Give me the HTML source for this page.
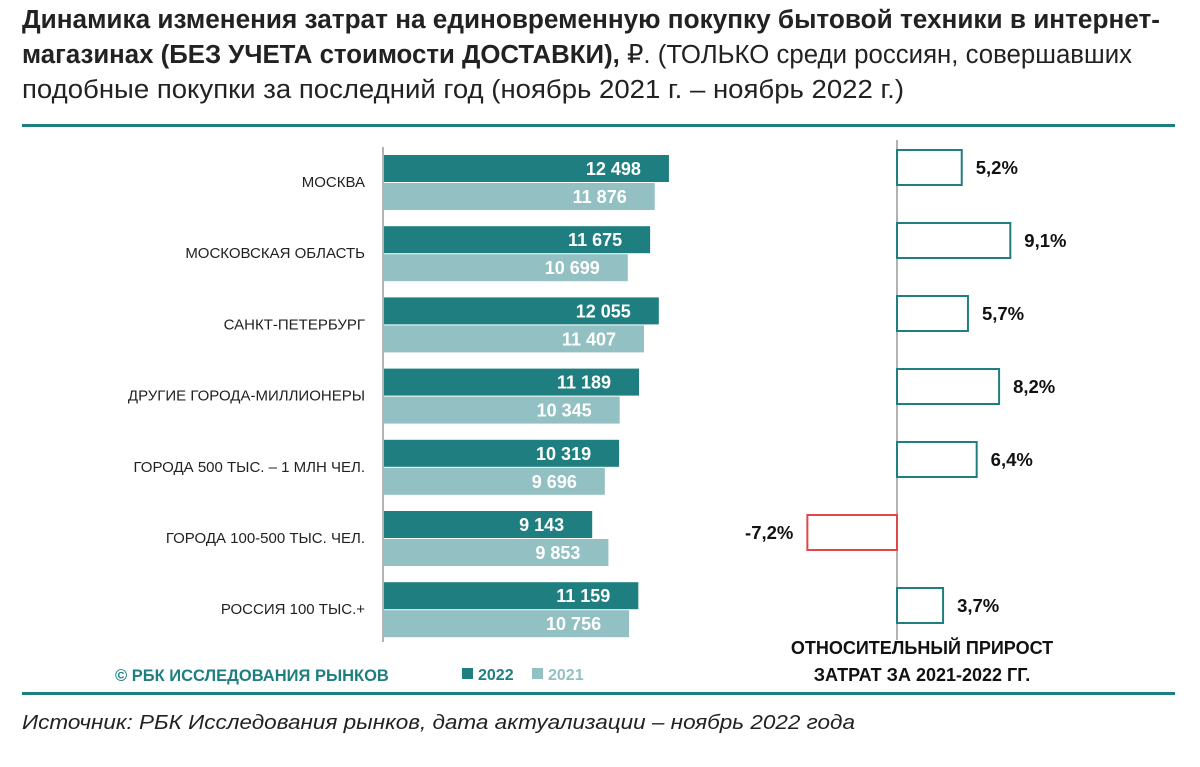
<!DOCTYPE html>
<html><head><meta charset="utf-8"><style>
body{margin:0;width:1200px;height:762px;background:#fff;overflow:hidden;font-family:"Liberation Sans","DejaVu Sans",sans-serif;}
</style></head><body>
<svg id="c" width="1200" height="762" xmlns="http://www.w3.org/2000/svg">
<g font-family="Liberation Sans, DejaVu Sans, sans-serif" font-size="25.5" fill="#222">
<text x="22" y="28" font-weight="bold" textLength="1138" lengthAdjust="spacingAndGlyphs">Динамика изменения затрат на единовременную покупку бытовой техники в интернет-</text>
<text x="22" y="63" textLength="1110" lengthAdjust="spacingAndGlyphs"><tspan font-weight="bold">магазинах (БЕЗ УЧЕТА стоимости ДОСТАВКИ), </tspan>₽. (ТОЛЬКО среди россиян, совершавших</text>
<text x="22" y="98" textLength="882" lengthAdjust="spacingAndGlyphs">подобные покупки за последний год (ноябрь 2021 г. – ноябрь 2022 г.)</text>
</g>
<rect x="22" y="124" width="1153" height="3" fill="#1f7f80"/>
<line x1="383" y1="147" x2="383" y2="642" stroke="#999" stroke-width="1.5"/>
<line x1="897" y1="140" x2="897" y2="640" stroke="#999" stroke-width="1.5"/>
<g id="bars"></g>
<g id="growth"></g>
<text x="922" y="654" text-anchor="middle" font-size="18" font-weight="bold" fill="#111">ОТНОСИТЕЛЬНЫЙ ПРИРОСТ</text>
<text x="922" y="681" text-anchor="middle" font-size="18" font-weight="bold" fill="#111">ЗАТРАТ ЗА 2021-2022 ГГ.</text>
<text x="115" y="681" font-size="16.5" font-weight="bold" fill="#1f7f80">© РБК ИССЛЕДОВАНИЯ РЫНКОВ</text>
<rect x="462" y="668" width="11" height="11" fill="#1f7f80"/>
<text x="478" y="680" font-size="16" font-weight="bold" fill="#1f7f80">2022</text>
<rect x="532" y="668" width="11" height="11" fill="#93c1c3"/>
<text x="548" y="680" font-size="16" font-weight="bold" fill="#93c1c3">2021</text>
<rect x="22" y="692" width="1153" height="3" fill="#1f7f80"/>
<text x="22" y="729" font-size="20" font-style="italic" fill="#222" textLength="833" lengthAdjust="spacingAndGlyphs">Источник: РБК Исследования рынков, дата актуализации – ноябрь 2022 года</text>
</svg>
<script>
const categories=["МОСКВА","МОСКОВСКАЯ ОБЛАСТЬ","САНКТ-ПЕТЕРБУРГ","ДРУГИЕ ГОРОДА-МИЛЛИОНЕРЫ","ГОРОДА 500 ТЫС. – 1 МЛН ЧЕЛ.","ГОРОДА 100-500 ТЫС. ЧЕЛ.","РОССИЯ 100 ТЫС.+"];
const values2022=[12498,11675,12055,11189,10319,9143,11159];
const values2021=[11876,10699,11407,10345,9696,9853,10756];
const growth=[5.2,9.1,5.7,8.2,6.4,-7.2,3.7];
const NS="http://www.w3.org/2000/svg";
function xBar(v){return 383+v*0.02288;}
function yGroup(i){return 155+i*71.2;}
function xG(p){return 897+p*12.45;}
function yG(i){return 150+i*73;}
function fmt(v){return String(v).replace(/\B(?=(\d{3})+(?!\d))/g," ");}
function mk(tag,attrs,parent){const e=document.createElementNS(NS,tag);for(const k in attrs)e.setAttribute(k,attrs[k]);parent.appendChild(e);return e;}
const bars=document.getElementById("bars"),gg=document.getElementById("growth");
categories.forEach((c,i)=>{
  const y=yGroup(i);
  const t=mk("text",{x:365,y:y+32,"text-anchor":"end","font-size":"15",fill:"#222"},bars);t.textContent=c;
  
  
  [[values2022[i],"#1f7f80",0,"bar-2022"],[values2021[i],"#93c1c3",28,"bar-2021"]].forEach(([v,col,off,nm])=>{
    const r=mk("rect",{x:384,y:y+off,width:xBar(v)-384,height:27,fill:col},bars);
    
    
    const l=mk("text",{x:xBar(v)-28,y:y+off+20,"text-anchor":"end","font-size":"18","font-weight":"bold",fill:"#fff"},bars);l.textContent=fmt(v);
    
    
  });
  const p=growth[i],yy=yG(i),neg=p<0;
  const x0=Math.min(xG(0),xG(p)),w=Math.abs(xG(p)-xG(0));
  const b=mk("rect",{x:x0,y:yy,width:w,height:35,fill:"#fff",stroke:neg?"#e04848":"#1f7f80","stroke-width":2},gg);
  
  
  const gl=mk("text",{x:neg?x0-14:x0+w+14,y:yy+24,"text-anchor":neg?"end":"start","font-size":"18.5","font-weight":"bold",fill:"#111"},gg);
  gl.textContent=String(p).replace(".",",")+"%";
  
  
});
</script>
</body></html>
